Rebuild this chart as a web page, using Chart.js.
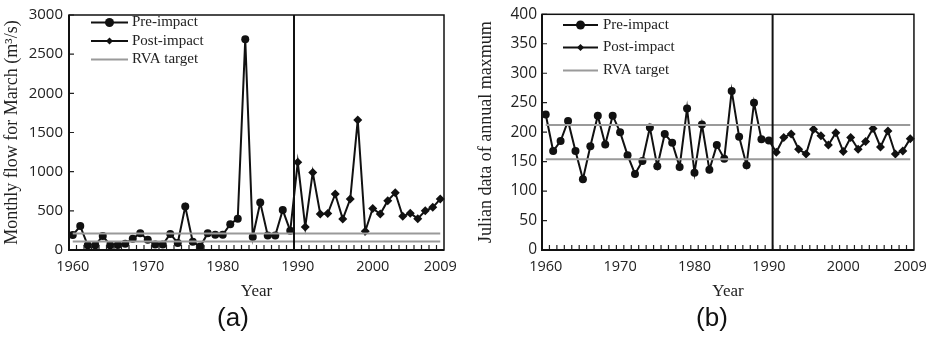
<!DOCTYPE html>
<html>
<head>
<meta charset="utf-8">
<script src="https://cdn.jsdelivr.net/npm/chart.js@4.4.1/dist/chart.umd.min.js"></script>
<style>
  html, body { margin: 0; padding: 0; background: #fff; }
  #page { position: relative; width: 935px; height: 339px; overflow: hidden; }
  .panel { position: absolute; top: 0; }
  .tag { position: absolute; top: 302px; font-family: "Liberation Sans", Arial, sans-serif;
         font-size: 26px; line-height: 30px; color: #111; transform: translateX(-50%); }
</style>
</head>
<body>
<div id="page">
  <canvas id="chartA" class="panel" width="468" height="310" style="left:0"></canvas>
  <canvas id="chartB" class="panel" width="467" height="310" style="left:468px"></canvas>
  <div class="tag" style="left:233px">(a)</div>
  <div class="tag" style="left:712px">(b)</div>
</div>
<script>
// categories
var years = ['1960','1961','1962','1963','1964','1965','1966','1967','1968','1969',
             '1970','1971','1972','1973','1974','1975','1976','1977','1978','1979',
             '1980','1981','1982','1983','1984','1985','1986','1987','1988','1989',
             '1990','1991','1992','1993','1994','1995','1996','1997','1998','1999',
             '2000','2001','2002','2003','2004','2005','2006','2007','2008','2009'];
var xTickLabels = ['1960','1970','1980','1990','2000','2009'];

// (a) monthly flow for March, m3/s
var flowPre = [190, 305, 60, 60, 180, 60, 65, 80, 145, 215,
               130, 70, 70, 205, 90, 555, 105, 45, 215, 195,
               195, 330, 400, 2690, 165, 605, 185, 185, 510, 245];      // 1960-1989
var flowPost = [1120, 295, 990, 460, 465, 715, 395, 650, 1660, 240,
                530, 460, 630, 730, 430, 470, 400, 500, 545, 650];       // 1990-2009
var flowRva = [210, 110];
var flowTicks = [0, 500, 1000, 1500, 2000, 2500, 3000];

// (b) julian date of annual maximum
var julianPre = [230, 168, 185, 219, 168, 120, 176, 228, 179, 228,
                 200, 161, 129, 151, 208, 142, 197, 182, 141, 240,
                 131, 213, 136, 178, 155, 270, 192, 144, 250, 188, 186]; // 1960-1990
var julianPost = [166, 191, 197, 171, 163, 205, 194, 178, 199, 167,
                  191, 171, 184, 206, 175, 202, 163, 168, 189];          // 1991-2009
var julianRva = [212, 154];
var julianTicks = [0, 50, 100, 150, 200, 250, 300, 350, 400];

var SERIF = '"Liberation Serif", "Times New Roman", serif';
var SANS = '"Open Sans", "DejaVu Sans", sans-serif';

function marker(ctx, style, x, y, r) {
  ctx.beginPath();
  if (style == 'rectRot') {
    ctx.moveTo(x, y - r); ctx.lineTo(x + r, y); ctx.lineTo(x, y + r); ctx.lineTo(x - r, y);
    ctx.closePath();
  } else {
    ctx.arc(x, y, r, 0, Math.PI * 2);
  }
  ctx.fill();
}

// box, inner tick marks, impact divider and the legend inside the plot
var framePlugin = {
  id: 'frame',
  afterDatasetsDraw: function(chart, args, opts) {
    var ctx = chart.ctx, a = chart.chartArea, x = chart.scales.x, y = chart.scales.y;
    ctx.save();
    ctx.strokeStyle = '#222';
    ctx.lineWidth = 1.2;
    ctx.beginPath();
    for (var i = 1; i < years.length; i++) {
      var px = (x.getPixelForValue(i - 1) + x.getPixelForValue(i)) / 2;
      ctx.moveTo(px, a.bottom); ctx.lineTo(px, a.bottom - 5);
    }
    y.ticks.forEach(function(t) {
      var py = y.getPixelForValue(t.value);
      ctx.moveTo(a.left, py); ctx.lineTo(a.left + 5, py);
    });
    ctx.stroke();

    var dx = (x.getPixelForValue(opts.split - 1) + x.getPixelForValue(opts.split)) / 2;
    ctx.strokeStyle = '#111';
    ctx.lineWidth = 2;
    ctx.beginPath(); ctx.moveTo(dx, a.top); ctx.lineTo(dx, a.bottom); ctx.stroke();

    ctx.lineWidth = 1.5;
    ctx.strokeRect(a.left, a.top, a.right - a.left, a.bottom - a.top);
    ctx.lineWidth = 2;
    ctx.beginPath();
    ctx.moveTo(a.left, a.top); ctx.lineTo(a.left, a.bottom); ctx.lineTo(a.right, a.bottom);
    ctx.stroke();

    var lg = opts.legend, ds = chart.data.datasets;
    ctx.font = '15px ' + SERIF;
    ctx.textBaseline = 'middle';
    ctx.textAlign = 'left';
    lg.rows.forEach(function(ry, k) {
      var d = ds[k];
      ctx.strokeStyle = d.borderColor;
      ctx.lineWidth = d.borderWidth;
      ctx.beginPath(); ctx.moveTo(lg.x0, ry); ctx.lineTo(lg.x1, ry); ctx.stroke();
      if (d.legendRadius) {
        ctx.fillStyle = d.pointBackgroundColor;
        marker(ctx, d.pointStyle, (lg.x0 + lg.x1) / 2, ry, d.legendRadius);
      }
      ctx.fillStyle = '#222';
      ctx.fillText(d.label, lg.tx, ry);
    });
    ctx.restore();
  }
};

function makeChart(id, cfg) {
  var split = cfg.pre.length;
  var last = cfg.pre[split - 1];
  var preData = years.map(function(yr, i) { return i < split ? cfg.pre[i] : null; });
  var postData = years.map(function(yr, i) {
    if (i == split - 1) return last;
    return i >= split ? cfg.post[i - split] : null;
  });
  var hi = years.map(function() { return cfg.rva[0]; });
  var lo = years.map(function() { return cfg.rva[1]; });

  return new Chart(document.getElementById(id), {
    type: 'line',
    data: {
      labels: years,
      datasets: [{
        label: 'Pre-impact', data: preData, order: 1,
        borderColor: '#111', borderWidth: 2, pointStyle: 'circle',
        pointRadius: 4, pointBorderWidth: 0, pointBackgroundColor: '#111',
        legendRadius: 4.5
      }, {
        label: 'Post-impact', data: postData, order: 1,
        borderColor: '#111', borderWidth: 2, pointStyle: 'rectRot',
        pointRadius: function(c) { return c.dataIndex < split ? 0 : 4.5; },
        pointBorderWidth: 0, pointBackgroundColor: '#111',
        legendRadius: 3.5
      }, {
        label: 'RVA target', data: hi, order: 0,
        borderColor: '#9a9a9a', borderWidth: 2, pointRadius: 0
      }, {
        label: 'RVA target', data: lo, order: 0,
        borderColor: '#9a9a9a', borderWidth: 2, pointRadius: 0
      }]
    },
    options: {
      responsive: false,
      animation: false,
      layout: { padding: { left: 0, right: cfg.padRight, top: cfg.padTop, bottom: 0 } },
      plugins: {
        legend: { display: false },
        tooltip: { enabled: false },
        frame: { split: split, legend: cfg.legend }
      },
      scales: {
        x: {
          type: 'category', offset: true,
          grid: { display: false, drawTicks: false },
          border: { display: false },
          ticks: {
            autoSkip: false, maxRotation: 0, padding: 8, color: '#222',
            font: { family: SANS, size: 14.5 },
            callback: function(v, i) { return xTickLabels.indexOf(years[i]) >= 0 ? years[i] : ''; }
          },
          title: { display: true, text: 'Year', color: '#222',
                   font: { family: SERIF, size: 17 }, padding: { top: 0, bottom: 8 } },
          afterFit: function(s) { s.height = 60; }
        },
        y: {
          min: 0, max: cfg.ticks[cfg.ticks.length - 1],
          grid: { display: false, drawTicks: false },
          border: { display: false },
          ticks: {
            padding: cfg.tickPad, color: '#222', font: { family: SANS, size: cfg.tickSize },
            callback: function(v) { return String(v); }
          },
          afterBuildTicks: function(s) { s.ticks = cfg.ticks.map(function(v) { return { value: v }; }); },
          title: { display: true, text: cfg.yTitle, color: '#222',
                   font: { family: SERIF, size: 18 }, padding: { top: cfg.titlePad, bottom: 0 } },
          afterFit: function(s) { s.width = cfg.left; }
        }
      }
    },
    plugins: [framePlugin]
  });
}

makeChart('chartA', {
  pre: flowPre, post: flowPost, rva: flowRva, ticks: flowTicks,
  yTitle: 'Monthly flow for March (m\u00b3/s)',
  left: 69, padRight: 24, padTop: 12, tickPad: 6, tickSize: 15, titlePad: 1,
  legend: { x0: 91, x1: 128, tx: 132, rows: [22.5, 41, 59.5] }
});

makeChart('chartB', {
  pre: julianPre, post: julianPost, rva: julianRva, ticks: julianTicks,
  yTitle: 'Julian data of annual maxmum',
  left: 74, padRight: 19, padTop: 14, tickPad: 5, tickSize: 15.5, titlePad: 7.5,
  legend: { x0: 95, x1: 130, tx: 135, rows: [25, 47.5, 70.5] }
});
</script>
</body>
</html>
